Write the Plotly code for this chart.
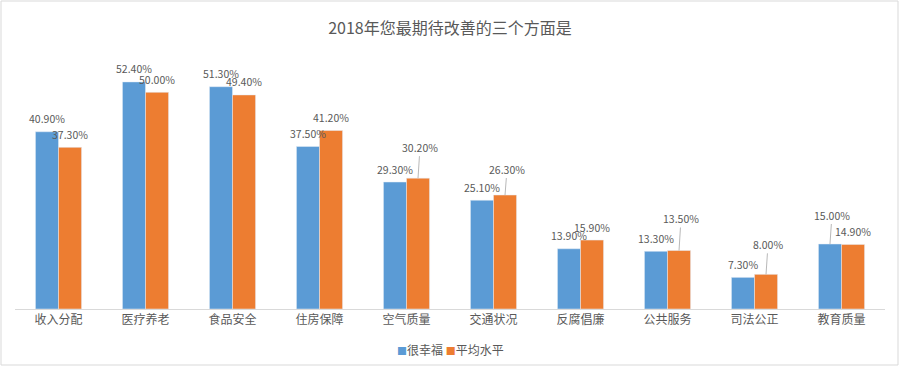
import plotly.graph_objects as go

categories = ["收入分配", "医疗养老", "食品安全", "住房保障", "空气质量",
              "交通状况", "反腐倡廉", "公共服务", "司法公正", "教育质量"]
very_happy = [40.9, 52.4, 51.3, 37.5, 29.3, 25.1, 13.9, 13.3, 7.3, 15.0]
average = [37.3, 50.0, 49.4, 41.2, 30.2, 26.3, 15.9, 13.5, 8.0, 14.9]
series_names = ["很幸福", "平均水平"]

# label style: extra raise (px) for labels drawn with a leader line
raise_blue = [0, 0, 0, 0, 0, 0, 0, 0, 0, 25]
raise_orange = [0, 0, 0, 0, 27, 22, 0, 28, 26, 0]

BLUE = "#5B9BD5"
ORANGE = "#ED7D31"
GRAY = "#595959"
FONT = "Noto Sans CJK SC"

W, H = 900, 367
ML, MR, MT, MB = 15, 15, 49, 58
PW = W - ML - MR
PH = H - MT - MB

fig = go.Figure()
fig.add_trace(go.Bar(x=categories, y=very_happy, name=series_names[0],
                     marker_color=BLUE, offsetgroup=0, showlegend=False))
fig.add_trace(go.Bar(x=categories, y=average, name=series_names[1],
                     marker_color=ORANGE, offsetgroup=1, showlegend=False))

bargap = 0.47
group_w = 1 - bargap
bar_w = group_w / 2
annotations = []
for s, (vals, raises) in enumerate([(very_happy, raise_blue), (average, raise_orange)]):
    off = -group_w / 2 + bar_w * (s + 0.5)
    for i, (v, r) in enumerate(zip(vals, raises)):
        xv = i + off
        txt = f"{v:.2f}%"
        if r > 0:
            annotations.append(dict(x=xv, y=v, xref="x", yref="y", text=txt,
                                    showarrow=True, arrowhead=0, arrowwidth=0.8,
                                    arrowcolor="#a6a6a6", ax=2, ay=-r - 4,
                                    standoff=0, font=dict(size=10.5, color=GRAY, family=FONT)))
        else:
            annotations.append(dict(x=xv, y=v, xref="x", yref="y", text=txt,
                                    showarrow=False, yshift=13,
                                    font=dict(size=10.5, color=GRAY, family=FONT)))

# compact legend drawn as text
legend_text = (f"<span style='color:{BLUE};font-size:10px'>■</span>{series_names[0]}"
               f"&nbsp;<span style='color:{ORANGE};font-size:10px'>■</span>{series_names[1]}")
annotations.append(dict(xref="paper", yref="paper", x=0.5, xanchor="center",
                        y=(309 - 350) / PH, yanchor="middle", showarrow=False,
                        text=legend_text, font=dict(size=12, color=GRAY, family=FONT)))

fig.update_layout(
    width=W, height=H,
    margin=dict(l=ML, r=MR, t=MT, b=MB, autoexpand=False),
    paper_bgcolor="white", plot_bgcolor="white",
    bargap=bargap, bargroupgap=0,
    showlegend=False,
    title=dict(text="2018年您最期待改善的三个方面是", x=0.5, xanchor="center",
               y=1 - 28 / H, yanchor="middle",
               font=dict(size=16, color=GRAY, family=FONT)),
    font=dict(family=FONT, color=GRAY, size=12),
    xaxis=dict(type="category", range=[-0.5, len(categories) - 0.5],
               showline=True, linecolor="#d9d9d9", linewidth=1, automargin=False,
               showgrid=False, ticks="", tickfont=dict(size=12, color=GRAY)),
    yaxis=dict(range=[0, 60], visible=False, showgrid=False, automargin=False),
    annotations=annotations,
    shapes=[dict(type="rect", xref="paper", yref="paper",
                 x0=(1 - ML) / PW, x1=(898 - ML) / PW,
                 y0=-(MB - 2) / PH, y1=(H - MB - 1) / PH,
                 line=dict(color="#d9d9d9", width=1), layer="below")],
)

fig.write_html("out.html", config={"displayModeBar": False},
               post_script="document.body.style.margin='0';document.body.style.overflow='hidden';")
